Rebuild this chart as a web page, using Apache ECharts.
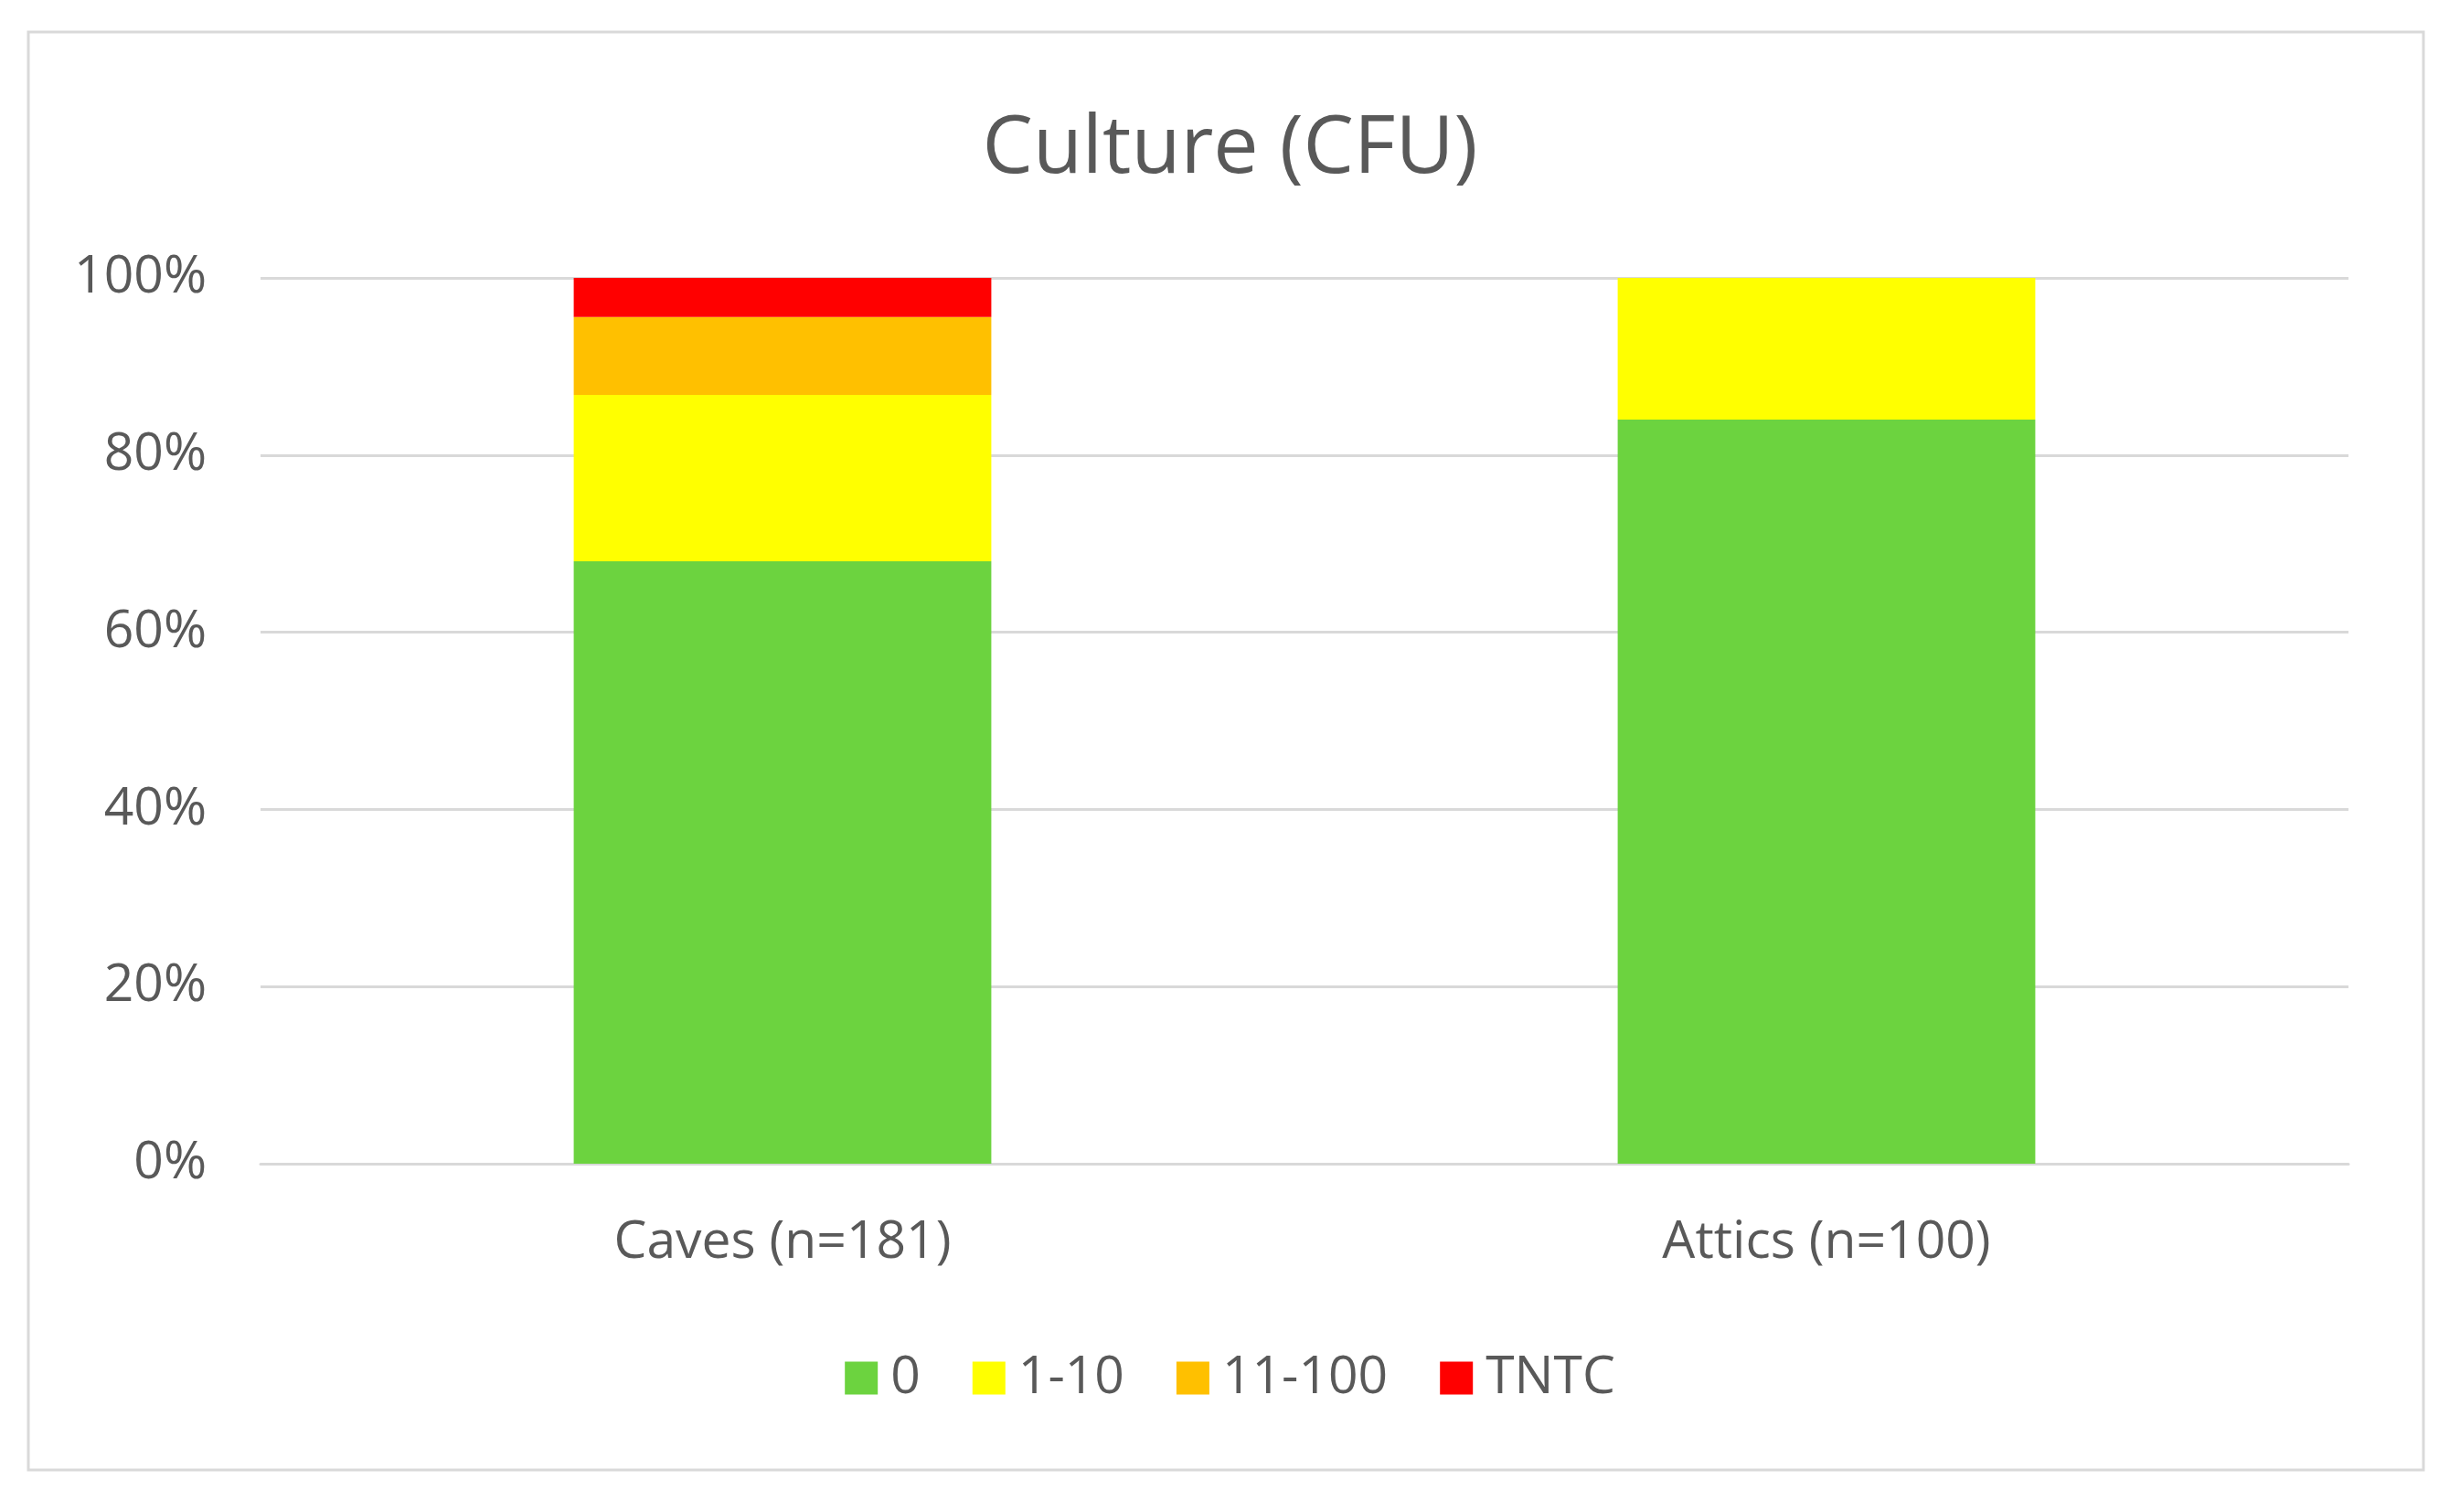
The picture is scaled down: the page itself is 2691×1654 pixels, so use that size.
<!DOCTYPE html>
<html>
<head>
<meta charset="utf-8">
<script src="https://cdn.jsdelivr.net/npm/echarts@6/dist/echarts.min.js"></script>
<style>
html,body{margin:0;padding:0;background:#fff;}
#c{width:2691px;height:1654px;}
</style>
</head>
<body>
<div id="c"></div>
<script>
var categories = ['Caves (n=181)', 'Attics (n=100)'];
var seriesNames = ['0', '1-10', '11-100', 'TNTC'];
var values0 = [68.0, 84.0];
var values1_10 = [18.8, 16.0];
var values11_100 = [8.8, 0];
var valuesTNTC = [4.4, 0];
var yTicks = [0, 20, 40, 60, 80, 100];

var colors = ['#6CD33F', '#FFFF00', '#FFC000', '#FF0000'];
var seriesData = [values0, values1_10, values11_100, valuesTNTC];
var font = "'Open Sans', sans-serif";
var textColor = '#595959';

var chart = echarts.init(document.getElementById('c'));
chart.setOption({
  animation: false,
  backgroundColor: '#ffffff',
  title: {
    text: 'Culture (CFU)',
    left: 'center',
    top: 115,
    textStyle: {fontFamily: font, fontSize: 88, fontWeight: 'normal', color: textColor}
  },
  graphic: [{
    type: 'rect',
    shape: {x: 31, y: 35, width: 2620, height: 1573},
    style: {fill: 'none', stroke: '#D9D9D9', lineWidth: 3},
    silent: true
  }],
  legend: {
    data: seriesNames,
    left: 'center',
    top: 1474,
    icon: 'rect',
    itemWidth: 36,
    itemHeight: 36,
    itemGap: 57,
    textStyle: {fontFamily: font, fontSize: 57, color: textColor, padding: [0, 0, 0, 9]}
  },
  grid: {left: 285, right: 122, top: 304, bottom: 381, containLabel: false},
  xAxis: {
    type: 'category',
    data: categories,
    axisLine: {show: true, lineStyle: {color: '#D9D9D9', width: 3}},
    axisTick: {show: false},
    axisLabel: {fontFamily: font, fontSize: 57, color: textColor, margin: 58}
  },
  yAxis: {
    type: 'value',
    min: yTicks[0],
    max: yTicks[yTicks.length - 1],
    interval: yTicks[1] - yTicks[0],
    axisLine: {show: false},
    axisTick: {show: false},
    splitLine: {lineStyle: {color: '#D9D9D9', width: 3}},
    axisLabel: {fontFamily: font, fontSize: 57, color: textColor, margin: 59, formatter: '{value}%'}
  },
  series: seriesNames.map(function (name, i) {
    return {
      name: name,
      type: 'bar',
      stack: 'total',
      barWidth: '40%',
      data: seriesData[i],
      itemStyle: {color: colors[i]}
    };
  })
});
</script>
</body>
</html>
